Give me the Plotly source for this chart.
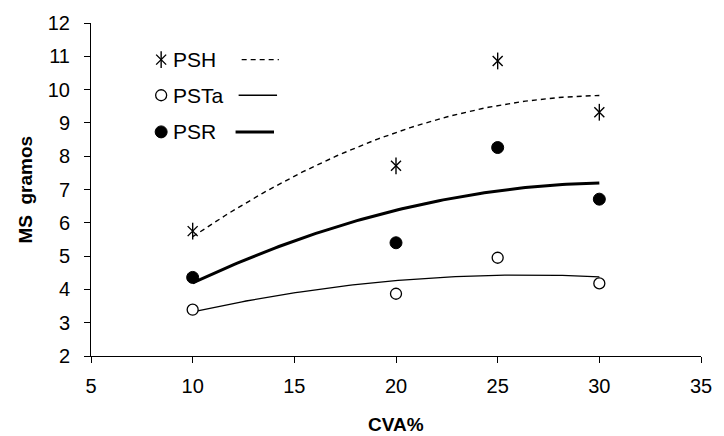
import numpy as np
import plotly.graph_objects as go

# ---- data ----
cva = [10, 20, 25, 30]
psh = [5.75, 7.71, 10.86, 9.32]
psta = [3.39, 3.87, 4.95, 4.18]
psr = [4.36, 5.40, 8.26, 6.71]
series_names = ["PSH", "PSTa", "PSR"]
x_ticks = [5, 10, 15, 20, 25, 30, 35]
y_ticks = [2, 3, 4, 5, 6, 7, 8, 9, 10, 11, 12]

FONT = "Liberation Sans, Arial, sans-serif"
fig = go.Figure()

# polynomial (order 2) trendlines, like the original spreadsheet chart
xs = np.linspace(min(cva), max(cva), 100)
trend_styles = {
    "PSH": dict(color="black", width=1.4, dash="5px,4px"),
    "PSTa": dict(color="black", width=1.3),
    "PSR": dict(color="black", width=3),
}
for name, vals in zip(series_names, [psh, psta, psr]):
    c = np.polyfit(cva, vals, 2)
    fig.add_trace(go.Scatter(x=xs, y=np.polyval(c, xs), mode="lines",
                             line=trend_styles[name], showlegend=False,
                             hoverinfo="skip"))

star_a = dict(symbol="x-thin-open", size=10, color="black",
              line=dict(color="black", width=1.4))
star_b = dict(symbol="line-ns-open", size=12, color="black",
              line=dict(color="black", width=1.4))
open_c = dict(symbol="circle", size=11, color="white",
              line=dict(color="black", width=1.3))
fill_c = dict(symbol="circle", size=12, color="black",
              line=dict(color="black", width=1))

# markers
for st in (star_a, star_b):
    fig.add_trace(go.Scatter(x=cva, y=psh, mode="markers", name="PSH",
                             marker=st, showlegend=False))
fig.add_trace(go.Scatter(x=cva, y=psta, mode="markers", name="PSTa",
                         marker=open_c, showlegend=False))
fig.add_trace(go.Scatter(x=cva, y=psr, mode="markers", name="PSR",
                         marker=fill_c, showlegend=False))

# ---- manual legend (layout positions in plot-area fractions) ----
leg_rows = [0.890, 0.783, 0.673]
leg_mx = 0.115
leg_tx = 0.1305
leg_lines = [(0.247, 0.308), (0.242, 0.305), (0.237, 0.300)]
leg_marker_styles = [[star_a, star_b], [open_c], [fill_c]]
for name, yr, styles, (l0, l1) in zip(series_names, leg_rows, leg_marker_styles, leg_lines):
    for st in styles:
        fig.add_trace(go.Scatter(x=[leg_mx], y=[yr], mode="markers", marker=st,
                                 xaxis="x2", yaxis="y2", showlegend=False,
                                 hoverinfo="skip"))
    fig.add_annotation(x=leg_tx, y=yr, xref="paper", yref="paper", text=name,
                       showarrow=False, xanchor="left", yanchor="middle",
                       font=dict(family=FONT, size=21, color="black"))
    fig.add_shape(type="line", xref="paper", yref="paper", x0=l0, x1=l1,
                  y0=yr, y1=yr, line=trend_styles[name])

# axis titles
fig.add_annotation(x=-0.108, y=0.5, xref="paper", yref="paper",
                   text="<b>MS  gramos</b>", textangle=-90, showarrow=False,
                   xanchor="center", yanchor="middle",
                   font=dict(family=FONT, size=19, color="black"))
fig.add_annotation(x=0.5, y=-0.205, xref="paper", yref="paper",
                   text="<b>CVA%</b>", showarrow=False,
                   xanchor="center", yanchor="middle",
                   font=dict(family=FONT, size=19, color="black"))

axis_common = dict(showline=True, linecolor="black", linewidth=1,
                   ticks="outside", ticklen=6, tickcolor="black",
                   showgrid=False, zeroline=False,
                   tickfont=dict(family=FONT, size=20, color="black"))

fig.update_layout(
    width=724, height=436,
    margin=dict(l=91, r=12, t=20, b=80),
    paper_bgcolor="white", plot_bgcolor="white",
    showlegend=False,
    xaxis=dict(range=[5, 35], tickvals=x_ticks, ticklabelstandoff=6,
               **axis_common),
    yaxis=dict(range=[2, 12], tickvals=y_ticks, ticklabelstandoff=10,
               **axis_common),
    xaxis2=dict(overlaying="x", range=[0, 1], visible=False, fixedrange=True),
    yaxis2=dict(overlaying="y", range=[0, 1], visible=False, fixedrange=True),
)

fig.write_html(
    "out.html",
    config={"displayModeBar": False},
    post_script="document.body.style.margin='0';document.body.style.overflow='hidden';",
)
